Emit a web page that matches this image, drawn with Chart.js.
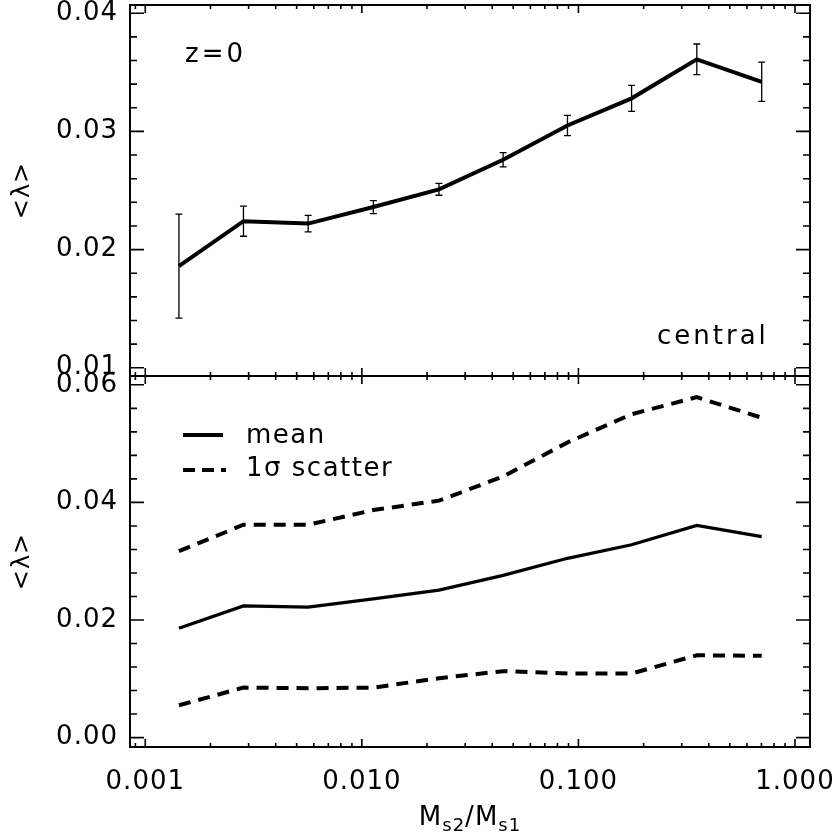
<!DOCTYPE html>
<html><head><meta charset="utf-8">
<script src="https://cdn.jsdelivr.net/npm/chart.js@4/dist/chart.umd.min.js"></script>
<style>html,body{margin:0;padding:0;background:#fff}#wrap{width:837px;height:834px}</style>
</head><body><div id="wrap"><canvas id="c" width="837" height="834"></canvas></div>
<script>
// ---- data ----
const massRatio    = [0.00143, 0.00284, 0.00565, 0.0113, 0.0227, 0.0449, 0.089, 0.176, 0.352, 0.702];
const meanLambda   = [0.0186, 0.0224, 0.0222, 0.0236, 0.0251, 0.0276, 0.0305, 0.0328, 0.0361, 0.0342];
const meanErr      = [0.0044, 0.00127, 0.0007, 0.00055, 0.0005, 0.0006, 0.00085, 0.0011, 0.0013, 0.00166];
const upperScatter = [0.0317, 0.0362, 0.0362, 0.0387, 0.0403, 0.0444, 0.0502, 0.0550, 0.0579, 0.0544];
const lowerScatter = [0.0055, 0.0085, 0.0084, 0.0085, 0.0101, 0.0113, 0.0109, 0.0109, 0.0140, 0.0139];
const xTickValues      = [0.001, 0.01, 0.1, 1];
const topTickValues    = [0.01, 0.02, 0.03, 0.04];
const bottomTickValues = [0.00, 0.02, 0.04, 0.06];
const panelLabel  = 'z=0';
const cornerLabel = 'central';
const legendLabels = ['mean', '1σ scatter'];
const yTitle = '<λ>';

// ---- style ----
const FONT = '"DejaVu Sans", sans-serif';
Chart.defaults.font.family = FONT;
Chart.defaults.font.size = 26;
Chart.defaults.color = '#000';

const pts = ys => massRatio.map((m, i) => ({x: m, y: ys[i]}));

const overlay = {
  id: 'overlay',
  beforeDraw(chart) { chart.ctx.letterSpacing = '1px'; },
  afterDatasetsDraw(chart) {
    const ctx = chart.ctx;
    const x = chart.scales.x, yT = chart.scales.yTop, yB = chart.scales.yBot;
    const L = chart.chartArea.left, R = chart.chartArea.right;
    ctx.save();
    ctx.strokeStyle = '#000';
    // error bars (top panel)
    ctx.lineWidth = 1.3;
    massRatio.forEach((m, i) => {
      const px = x.getPixelForValue(m);
      const t = yT.getPixelForValue(meanLambda[i] + meanErr[i]);
      const b = yT.getPixelForValue(meanLambda[i] - meanErr[i]);
      ctx.beginPath();
      ctx.moveTo(px, t); ctx.lineTo(px, b);
      ctx.moveTo(px - 3.5, t); ctx.lineTo(px + 3.5, t);
      ctx.moveTo(px - 3.5, b); ctx.lineTo(px + 3.5, b);
      ctx.stroke();
    });
    // panel frames and inward ticks
    const panels = [
      {s: yT, ticks: topTickValues, minor: 0.002, lo: 0.01, n: 15},
      {s: yB, ticks: bottomTickValues, minor: 0.004, lo: 0.0, n: 15}
    ];
    const xMinor = [];
    for (let e = -4; e <= 0; e++) for (let k = 2; k <= 9; k++) {
      const v = k * Math.pow(10, e);
      if (v > x.min && v < x.max) xMinor.push(v);
    }
    for (const p of panels) {
      const T = p.s.top, B = p.s.bottom;
      ctx.lineWidth = 2;
      ctx.strokeRect(L, T, R - L, B - T);
      ctx.lineWidth = 1.6;
      ctx.beginPath();
      for (let i = 0; i <= p.n; i++) {
        const v = p.lo + i * p.minor;
        const py = p.s.getPixelForValue(v);
        if (py < T - 0.5 || py > B + 0.5) continue;
        const major = p.ticks.some(t => Math.abs(t - v) < 1e-9);
        const len = major ? 14 : 7;
        ctx.moveTo(L, py); ctx.lineTo(L + len, py);
        ctx.moveTo(R, py); ctx.lineTo(R - len, py);
      }
      for (const v of xTickValues) {
        const px = x.getPixelForValue(v);
        ctx.moveTo(px, B); ctx.lineTo(px, B - 8);
        ctx.moveTo(px, T); ctx.lineTo(px, T + 8);
      }
      for (const v of xMinor) {
        const px = x.getPixelForValue(v);
        ctx.moveTo(px, B); ctx.lineTo(px, B - 4);
        ctx.moveTo(px, T); ctx.lineTo(px, T + 4);
      }
      ctx.stroke();
    }
    ctx.restore();
  },
  afterDraw(chart) {
    const ctx = chart.ctx;
    const yT = chart.scales.yTop, yB = chart.scales.yBot;
    ctx.save();
    ctx.fillStyle = '#000';
    ctx.textBaseline = 'alphabetic';
    ctx.font = '26px ' + FONT;
    ctx.textAlign = 'left';
    ctx.letterSpacing = '3px';
    ctx.fillText(panelLabel, 185, yT.top + 57);
    ctx.fillText(cornerLabel, 657, yT.bottom - 32);
    // legend
    ctx.letterSpacing = '1.5px';
    ctx.fillText(legendLabels[0], 246, yB.top + 67);
    ctx.fillText(legendLabels[1], 246, yB.top + 100);
    ctx.strokeStyle = '#000';
    ctx.lineWidth = 4;
    ctx.beginPath(); ctx.moveTo(183, yB.top + 59); ctx.lineTo(223, yB.top + 59); ctx.stroke();
    ctx.setLineDash([12, 7]);
    ctx.beginPath(); ctx.moveTo(183, yB.top + 94); ctx.lineTo(226, yB.top + 94); ctx.stroke();
    ctx.setLineDash([]);
    // x axis title with subscripts
    ctx.letterSpacing = '1px';
    const parts = [['M', 26, 0], ['s2', 18, 6], ['/', 26, 0], ['M', 26, 0], ['s1', 18, 6]];
    let w = 0;
    for (const [t, s] of parts) { ctx.font = s + 'px ' + FONT; w += ctx.measureText(t).width; }
    let cx = (chart.chartArea.left + chart.chartArea.right) / 2 - w / 2;
    const base = 825;
    for (const [t, s, d] of parts) {
      ctx.font = s + 'px ' + FONT;
      ctx.fillText(t, cx, base + d);
      cx += ctx.measureText(t).width;
    }
    ctx.restore();
  }
};

const fixTicks = vals => s => { s.ticks = vals.map(v => ({value: v})); };
const fitY = s => { s.width = 130; s.paddingTop = 0; s.paddingBottom = 0; };
const fitX = s => { s.height = 87; s.paddingLeft = 0; s.paddingRight = 0; };

new Chart(document.getElementById('c'), {
  type: 'line',
  data: {
    datasets: [
      {label: 'mean', data: pts(meanLambda), yAxisID: 'yTop', borderColor: '#000', borderWidth: 4, pointRadius: 0, tension: 0},
      {label: 'mean', data: pts(meanLambda), yAxisID: 'yBot', borderColor: '#000', borderWidth: 3.3, pointRadius: 0, tension: 0},
      {label: '1σ scatter (upper)', data: pts(upperScatter), yAxisID: 'yBot', borderColor: '#000', borderWidth: 4, borderDash: [12, 8], pointRadius: 0, tension: 0},
      {label: '1σ scatter (lower)', data: pts(lowerScatter), yAxisID: 'yBot', borderColor: '#000', borderWidth: 4, borderDash: [12, 8], pointRadius: 0, tension: 0}
    ]
  },
  options: {
    responsive: false,
    animation: false,
    devicePixelRatio: 1,
    layout: {padding: {left: 0, right: 27, top: 5, bottom: 0}},
    plugins: {legend: {display: false}, tooltip: {enabled: false}},
    scales: {
      x: {
        type: 'logarithmic', position: 'bottom', min: 0.00085, max: 1.173,
        afterBuildTicks: fixTicks(xTickValues),
        afterFit: fitX,
        grid: {display: false, drawTicks: false, tickLength: 0},
        border: {display: false},
        ticks: {autoSkip: false, maxRotation: 0, padding: 20, callback: v => Number(v).toFixed(3)}
      },
      yBot: {
        type: 'linear', position: 'left', stack: 'panels', stackWeight: 1, weight: 0,
        min: -0.0016, max: 0.0615,
        afterBuildTicks: fixTicks(bottomTickValues),
        afterFit: fitY,
        grid: {display: false, drawTicks: false, tickLength: 0},
        border: {display: false},
        ticks: {autoSkip: false, padding: 12, callback: v => Number(v).toFixed(2)},
        title: {display: true, text: yTitle, font: {size: 24}, padding: {top: 8, bottom: 0}}
      },
      yTop: {
        type: 'linear', position: 'left', stack: 'panels', stackWeight: 1, weight: 1,
        min: 0.0093, max: 0.0407,
        afterBuildTicks: fixTicks(topTickValues),
        afterFit: fitY,
        grid: {display: false, drawTicks: false, tickLength: 0},
        border: {display: false},
        ticks: {autoSkip: false, padding: 12, callback: v => Number(v).toFixed(2)},
        title: {display: true, text: yTitle, font: {size: 24}, padding: {top: 8, bottom: 0}}
      }
    }
  },
  plugins: [overlay]
});
</script></body></html>
